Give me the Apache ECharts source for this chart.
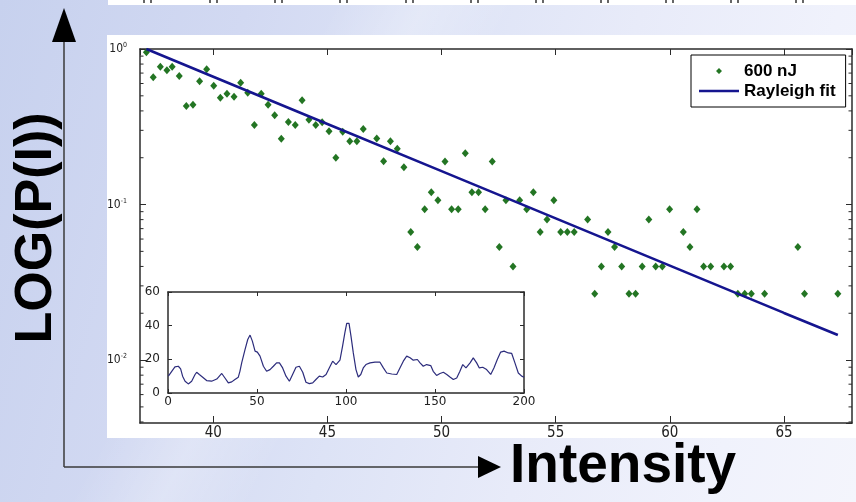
<!DOCTYPE html>
<html>
<head>
<meta charset="utf-8">
<script src="https://cdn.jsdelivr.net/npm/echarts@6/dist/echarts.min.js"></script>
<style>
  html, body { margin: 0; padding: 0; }
  body {
    width: 856px; height: 502px; overflow: hidden;
    background:
      linear-gradient(118deg, rgba(255,255,255,0) 0%, rgba(255,255,255,0) 30%, rgba(255,255,255,0.25) 38%, rgba(255,255,255,0) 46%, rgba(255,255,255,0) 100%),
      linear-gradient(105deg, #c7d1ee 0%, #d2d9f2 25%, #dde3f6 45%, #e8ebf9 65%, #f0f2fc 85%, #f4f5fc 100%);
  }
  #chart { width: 856px; height: 502px; }
</style>
</head>
<body>
<div id="chart"></div>
<script>
// Measured intensity distribution (600 nJ pulses)
const intensity = [
  37.07, 37.37, 37.68, 37.97, 38.20, 38.51, 38.82, 39.11, 39.40, 39.71,
  40.02, 40.31, 40.60, 40.91, 41.20, 41.51, 41.80, 42.10, 42.40, 42.69,
  42.98, 43.29, 43.59, 43.89, 44.19, 44.49, 44.77, 45.07, 45.37, 45.67,
  45.98, 46.29, 46.57, 47.16, 47.46, 47.76, 48.06, 48.35, 48.65, 48.94,
  49.26, 49.55, 49.84, 50.15, 50.44, 50.73, 51.04, 51.33, 51.62, 51.91,
  52.22, 52.53, 52.82, 53.13, 53.42, 53.73, 54.02, 54.32, 54.62, 54.92,
  55.22, 55.51, 55.81, 56.40, 56.71, 57.00, 57.29, 57.58, 57.89, 58.21,
  58.50, 58.79, 59.08, 59.38, 59.67, 59.99, 60.59, 60.88, 61.19, 61.48,
  61.79, 62.37, 62.66, 62.98, 63.28, 63.57, 64.15, 65.61, 65.90, 67.36
];
const probability = [
  0.952, 0.658, 0.770, 0.730, 0.770, 0.671, 0.430, 0.438, 0.620, 0.741,
  0.581, 0.486, 0.516, 0.493, 0.607, 0.524, 0.325, 0.516, 0.438, 0.375,
  0.265, 0.339, 0.325, 0.468, 0.351, 0.325, 0.338, 0.296, 0.200, 0.294,
  0.255, 0.255, 0.306, 0.266, 0.190, 0.255, 0.228, 0.174, 0.0667, 0.0533,
  0.0933, 0.120, 0.1067, 0.189, 0.0933, 0.0933, 0.2135, 0.120, 0.120, 0.0933,
  0.189, 0.0533, 0.1067, 0.040, 0.1067, 0.0933, 0.120, 0.0667, 0.080, 0.1067,
  0.0667, 0.0667, 0.0667, 0.080, 0.0267, 0.040, 0.0667, 0.0533, 0.040, 0.0267,
  0.0267, 0.040, 0.080, 0.040, 0.040, 0.0933, 0.0667, 0.0533, 0.0933, 0.040,
  0.040, 0.040, 0.040, 0.0267, 0.0267, 0.0267, 0.0267, 0.0533, 0.0267, 0.0267
];

// Rayleigh fit
const fitIntensity = [37.07, 40, 45, 50, 55, 60, 65, 67.36];
const fitProbability = [1.0, 0.6636, 0.3298, 0.164, 0.0815, 0.0405, 0.0201, 0.01449];

// Inset: intensity trace over time
const traceTime = [
  0.2, 2.1, 3.9, 5.8, 7.1, 8.2, 9.6, 11.4, 13.3, 15.2,
  16.1, 17.6, 19.5, 21.7, 24.5, 27.4, 30.2, 32, 33.9, 35.8,
  37.6, 39.5, 40.4, 41.4, 43.3, 44.8, 46.1, 47.4, 48.9, 50.2,
  51.7, 53.6, 55.4, 57.3, 59.2, 61, 62.6, 64.4, 66.3, 68.2,
  70, 71.9, 73.8, 75.7, 77.5, 79.4, 81.3, 83.1, 85, 86.9,
  88.8, 90.6, 92.5, 94.4, 96.6, 98.1, 99.4, 100.4, 101.7, 102.8,
  104.1, 105.6, 106.9, 108.3, 109.7, 111.2, 113.5, 116.3, 119.1, 121,
  122.9, 125.7, 128.5, 130.3, 132.2, 134.1, 136, 137.8, 140.1, 141.6,
  143.4, 145.3, 147.6, 149, 150.9, 152.8, 154.7, 156.6, 158.4, 160.3,
  162.2, 164, 165.6, 167.4, 169.7, 171.5, 173.4, 174.9, 176.8, 179,
  181.3, 183.1, 185, 186.9, 188.8, 191.2, 193.1, 194.9, 196.8, 198.7,
  200
];
const traceValue = [
  10, 12.9, 15.5, 15.9, 14.3, 10, 7, 5.4, 7, 11,
  12.3, 11, 9.4, 7.4, 7, 8.3, 11.6, 8.9, 6, 6.6,
  8, 9.4, 12.9, 17.9, 25.9, 31.8, 34.4, 30.8, 24.9, 24.3,
  21.9, 15.9, 12.9, 13.9, 15.9, 17.9, 17.9, 14.9, 10, 7,
  11, 15.3, 15.9, 12.3, 6.4, 5.6, 6, 8, 10, 9.5,
  11, 14.9, 18.9, 16.9, 19.5, 28, 36, 41.4, 41.4, 33.8,
  23.8, 13.9, 9.5, 11, 14.9, 16.9, 17.9, 18.3, 18.3, 14.9,
  11.9, 11.3, 11, 14.9, 18.9, 21.9, 20.9, 19.5, 19.9, 17.9,
  15.9, 16.9, 16.3, 12.9, 10.4, 11.6, 12.3, 11, 9.5, 8,
  8.9, 12.9, 16.9, 14.9, 17.9, 20.9, 17.9, 14.9, 15.3, 13.9,
  11, 14.9, 19.9, 24.3, 24.9, 23.8, 23.5, 17.9, 11.9, 10,
  9.4
];

// Axis ranges
const xRange = [36.79, 67.98];
const yRange = [0.00394, 1];
const insetXRange = [0, 200];
const insetYRange = [0, 60];
// Minor log ticks (2..9 within each decade)
const minorTicks = [
  0.004, 0.005, 0.006, 0.007, 0.008, 0.009,
  0.02, 0.03, 0.04, 0.05, 0.06, 0.07, 0.08, 0.09,
  0.2, 0.3, 0.4, 0.5, 0.6, 0.7, 0.8, 0.9
];
const legendNames = ['600 nJ', 'Rayleigh fit'];
const xTitle = 'Intensity';
const yTitle = 'LOG(P(I))';

const AXIS = '#2b2b2b';
const GREEN = '#237523';
const NAVY = '#15158f';
const NARROW = "'Liberation Sans Narrow', 'DejaVu Sans Condensed', sans-serif";

const chart = echarts.init(document.getElementById('chart'), null, { renderer: 'canvas' });

function frameAxis(extra) {
  return Object.assign({
    axisLine: { show: true, onZero: false, lineStyle: { color: AXIS, width: 1.5 } },
    axisTick: { show: true, inside: true, length: 7, lineStyle: { color: AXIS, width: 1 } },
    splitLine: { show: false }
  }, extra);
}

// legend glyphs: a small diamond and a thick bar, each padded to the 40x8 icon box
const diamondIcon = 'path://M0,0L0.01,0Z M40,8L39.99,8Z M20,1L23,4L20,7L17,4Z';
const barIcon = 'path://M0,0L0.01,0Z M40,8L39.99,8Z M0,2.8L40,2.8L40,5.3L0,5.3Z';

const stripMarks = [148, 214, 279, 344, 410, 475, 540, 605, 670, 735, 800];

const option = {
  backgroundColor: 'transparent',
  animation: false,
  grid: [
    { left: 140, top: 49, width: 712, height: 374 },
    { left: 168, top: 292, width: 356, height: 101, show: true, backgroundColor: '#ffffff', borderWidth: 0 }
  ],
  legend: {
    data: [
      { name: legendNames[0], icon: diamondIcon, itemStyle: { color: GREEN } },
      { name: legendNames[1], icon: barIcon, itemStyle: { color: NAVY } }
    ],
    orient: 'vertical',
    left: 691, top: 55,
    padding: [6, 10, 6, 8],
    itemGap: 0,
    itemWidth: 40, itemHeight: 8,
    backgroundColor: '#ffffff',
    borderColor: '#000000', borderWidth: 1, borderRadius: 0,
    textStyle: { fontFamily: "'Liberation Sans', Arial, sans-serif", fontWeight: 'bold', fontSize: 17, color: '#000', lineHeight: 20 }
  },
  xAxis: [
    frameAxis({
      gridIndex: 0, type: 'value', min: xRange[0], max: xRange[1], splitNumber: 6, position: 'bottom',
      axisLabel: { showMinLabel: false, showMaxLabel: false, margin: 3, fontFamily: NARROW, fontSize: 15, color: '#222' }
    }),
    frameAxis({
      gridIndex: 0, type: 'value', min: xRange[0], max: xRange[1], splitNumber: 6, position: 'top',
      axisTick: { show: true, inside: true, length: 6, lineStyle: { color: AXIS } },
      axisLabel: { show: false }
    }),
    frameAxis({
      gridIndex: 1, type: 'value', min: insetXRange[0], max: insetXRange[1], interval: 50, position: 'bottom',
      axisTick: { show: true, inside: true, length: 4, lineStyle: { color: AXIS } },
      axisLabel: { margin: 3, fontFamily: "'DejaVu Sans', sans-serif", fontSize: 12, color: '#222' }
    }),
    frameAxis({
      gridIndex: 1, type: 'value', min: insetXRange[0], max: insetXRange[1], interval: 50, position: 'top',
      axisTick: { show: true, inside: true, length: 4, lineStyle: { color: AXIS } },
      axisLabel: { show: false }
    })
  ],
  yAxis: [
    frameAxis({
      gridIndex: 0, type: 'log', logBase: 10, min: yRange[0], max: yRange[1], position: 'left',
      axisTick: { show: true, inside: true, length: 6, lineStyle: { color: AXIS } },
      axisLabel: {
        showMinLabel: false, margin: 13, color: '#222',
        formatter: v => '{b|10}{s|' + Math.round(Math.log10(v)) + '}',
        rich: {
          b: { fontFamily: NARROW, fontSize: 12, lineHeight: 14, color: '#222' },
          s: { fontFamily: NARROW, fontSize: 7, lineHeight: 8, verticalAlign: 'top', color: '#222' }
        }
      }
    }),
    frameAxis({
      gridIndex: 0, type: 'log', logBase: 10, min: yRange[0], max: yRange[1], position: 'right',
      axisTick: { show: true, inside: true, length: 6, lineStyle: { color: AXIS } },
      axisLabel: { show: false }
    }),
    frameAxis({
      gridIndex: 1, type: 'value', min: insetYRange[0], max: insetYRange[1], interval: 20, position: 'left',
      axisTick: { show: true, inside: true, length: 4, lineStyle: { color: AXIS } },
      axisLabel: { margin: 8, fontFamily: "'DejaVu Sans', sans-serif", fontSize: 12, color: '#222' }
    }),
    frameAxis({
      gridIndex: 1, type: 'value', min: insetYRange[0], max: insetYRange[1], interval: 20, position: 'right',
      axisTick: { show: true, inside: true, length: 4, lineStyle: { color: AXIS } },
      axisLabel: { show: false }
    })
  ],
  series: [
    {
      name: legendNames[0], type: 'scatter', xAxisIndex: 0, yAxisIndex: 0,
      symbol: 'diamond', symbolSize: [7, 8],
      itemStyle: { color: GREEN, opacity: 1 },
      data: intensity.map((x, i) => [x, probability[i]]),
      z: 3
    },
    {
      name: legendNames[1], type: 'line', xAxisIndex: 0, yAxisIndex: 0,
      symbol: 'none', smooth: false,
      lineStyle: { color: NAVY, width: 2.6 },
      itemStyle: { color: NAVY },
      data: fitIntensity.map((x, i) => [x, fitProbability[i]]),
      z: 4
    },
    {
      // minor log ticks on both vertical edges of the main frame
      type: 'custom', xAxisIndex: 0, yAxisIndex: 0, silent: true, clip: false,
      data: minorTicks.map(v => [xRange[0], v]),
      renderItem: (params, api) => {
        const l = api.coord([xRange[0], api.value(1)]);
        const r = api.coord([xRange[1], api.value(1)]);
        const st = { stroke: AXIS, lineWidth: 1 };
        return {
          type: 'group',
          children: [
            { type: 'line', shape: { x1: l[0], y1: l[1], x2: l[0] + 3.5, y2: l[1] }, style: st },
            { type: 'line', shape: { x1: r[0], y1: r[1], x2: r[0] - 3.5, y2: r[1] }, style: st }
          ]
        };
      },
      z: 3
    },
    {
      type: 'line', xAxisIndex: 2, yAxisIndex: 2,
      symbol: 'none',
      lineStyle: { color: '#2c2c7c', width: 1.2 },
      data: traceTime.map((t, i) => [t, traceValue[i]]),
      z: 6
    }
  ],
  graphic: [
    // white panel behind the plot
    { type: 'rect', z: -10, shape: { x: 107, y: 35, width: 749, height: 403 }, style: { fill: '#ffffff' } },
    // strip along the top edge
    { type: 'rect', z: -10, shape: { x: 108, y: 0, width: 748, height: 5 }, style: { fill: '#ffffff' } },
    ...stripMarks.map(c => ({
      type: 'group', z: -9,
      children: [
        { type: 'rect', shape: { x: c - 5, y: 0, width: 2, height: 3 }, style: { fill: '#666' } },
        { type: 'rect', shape: { x: c + 2, y: 0, width: 2, height: 3 }, style: { fill: '#666' } }
      ]
    })),
    // axis arrows
    { type: 'line', shape: { x1: 64, y1: 467, x2: 64, y2: 40 }, style: { stroke: '#3a3a3a', lineWidth: 1.5 } },
    { type: 'polygon', shape: { points: [[52, 42], [76, 42], [64, 8]] }, style: { fill: '#000' } },
    { type: 'line', shape: { x1: 64, y1: 467, x2: 480, y2: 467 }, style: { stroke: '#3a3a3a', lineWidth: 1.5 } },
    { type: 'polygon', shape: { points: [[478, 456], [478, 478], [501, 467]] }, style: { fill: '#000' } },
    {
      type: 'text', x: 510, y: 467,
      style: { text: xTitle, fill: '#000', font: "bold 55px 'Liberation Sans', Arial, sans-serif", textVerticalAlign: 'middle', verticalAlign: 'middle' }
    },
    {
      type: 'text', x: 37, y: 228, rotation: Math.PI / 2,
      style: { text: yTitle, fill: '#000', font: "bold 52px 'Liberation Sans', Arial, sans-serif", align: 'center', verticalAlign: 'middle', textAlign: 'center', textVerticalAlign: 'middle' }
    }
  ]
};

chart.setOption(option);
</script>
</body>
</html>
